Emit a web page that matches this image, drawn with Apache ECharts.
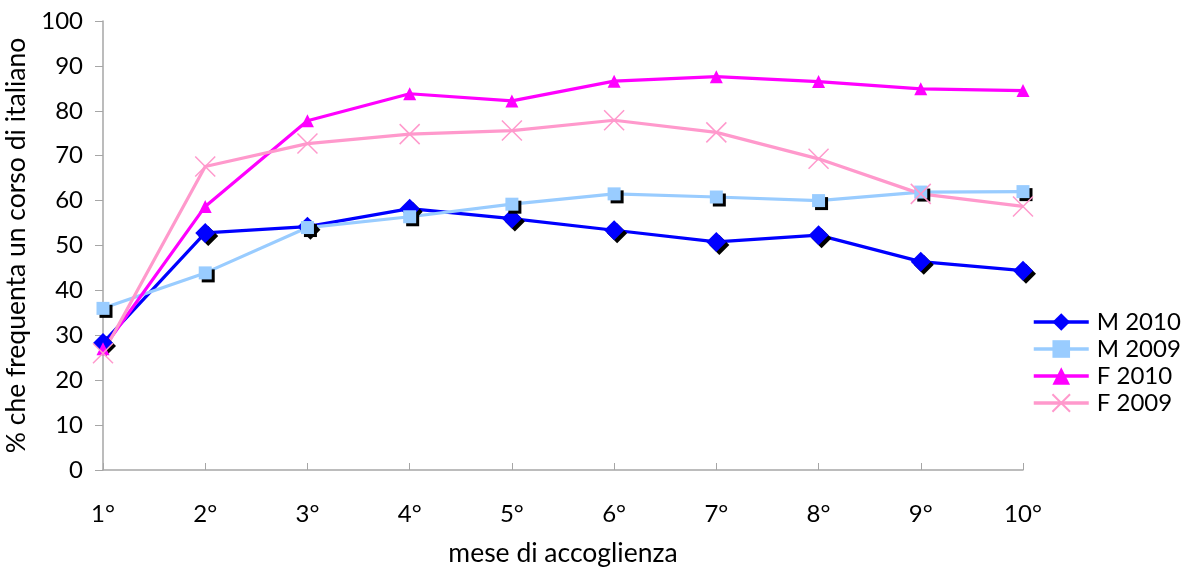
<!DOCTYPE html>
<html><head><meta charset="utf-8">
<script src="https://cdn.jsdelivr.net/npm/echarts@6/dist/echarts.min.js"></script>
<style>html,body{margin:0;padding:0;background:#fff}#c{width:1187px;height:570px}</style>
</head><body><div id="c"></div>
<script>
const categories = ['1°','2°','3°','4°','5°','6°','7°','8°','9°','10°'];
const m2010 = [28.3, 52.8, 54.2, 58.2, 56.0, 53.4, 50.8, 52.3, 46.4, 44.4];
const m2009 = [36.0, 43.9, 54.0, 56.4, 59.2, 61.5, 60.8, 60.0, 61.9, 62.0];
const f2010 = [27.0, 58.7, 77.8, 83.8, 82.2, 86.6, 87.6, 86.5, 84.9, 84.5];
const f2009 = [26.0, 67.6, 72.7, 74.8, 75.6, 77.9, 75.2, 69.3, 61.5, 58.7];
const yTicks = [0,10,20,30,40,50,60,70,80,90,100];

const FONT = 'Lato, "Open Sans", sans-serif';
const AX = '#a6a6a6';
const chart = echarts.init(document.getElementById('c'), null, {renderer:'canvas'});
const shadow = {shadowColor:'#000', shadowBlur:0, shadowOffsetX:3, shadowOffsetY:3};
const XPATH = 'path://M0,0L10,10M10,0L0,10';
chart.setOption({
  animation:false,
  grid:{left:103, top:21, right:164, bottom:100, containLabel:false, outerBoundsMode:'none'},
  legend:{
    orient:'vertical', left:1027, top:305, itemWidth:55, itemHeight:22, itemGap:3,
    padding:5,
    textStyle:{fontFamily:FONT, fontSize:24, color:'#000', padding:[0,0,0,3]},
    lineStyle:{width:3.5},
    data:['M 2010','M 2009','F 2010','F 2009']
  },
  xAxis:{
    type:'category', data:categories, boundaryGap:false,
    axisLine:{lineStyle:{color:AX, width:1.5}},
    axisTick:{inside:true, length:7, lineStyle:{color:AX}, alignWithLabel:true},
    axisLabel:{fontFamily:FONT, fontSize:24, color:'#000', margin:32},
    name:'mese di accoglienza', nameLocation:'middle', nameGap:70,
    nameTextStyle:{fontFamily:FONT, fontSize:26.5, color:'#000'}
  },
  yAxis:{
    type:'value', min:0, max:100, interval:10,
    axisLine:{show:true, lineStyle:{color:AX, width:1.5}},
    axisTick:{show:true, length:8, lineStyle:{color:AX}},
    splitLine:{show:false},
    axisLabel:{fontFamily:FONT, fontSize:24, color:'#000', margin:20,
      formatter:(v)=> yTicks.includes(v) ? String(v) : ''},
    name:'% che frequenta un corso di italiano', nameLocation:'middle', nameGap:63,
    nameRotate:90,
    nameTextStyle:{fontFamily:FONT, fontSize:26.5, color:'#000'}
  },
  series:[
    {name:'M 2010', type:'line', data:m2010, symbol:'diamond', symbolSize:20,
     lineStyle:{color:'#0000ff', width:3.2}, itemStyle:Object.assign({color:'#0000ff'}, shadow)},
    {name:'M 2009', type:'line', data:m2009, symbol:'rect', symbolSize:13,
     lineStyle:{color:'#99ccff', width:3.2}, itemStyle:Object.assign({color:'#99ccff'}, shadow)},
    {name:'F 2010', type:'line', data:f2010, symbol:'triangle', symbolSize:13,
     lineStyle:{color:'#ff00ff', width:3.2}, itemStyle:{color:'#ff00ff'}},
    {name:'F 2009', type:'line', data:f2009, symbol:XPATH, symbolSize:20,
     lineStyle:{color:'#ff99cc', width:3.2}, itemStyle:{color:'#ff99cc', borderColor:'#ff99cc', borderWidth:1.5}}
  ]
});
</script></body></html>
